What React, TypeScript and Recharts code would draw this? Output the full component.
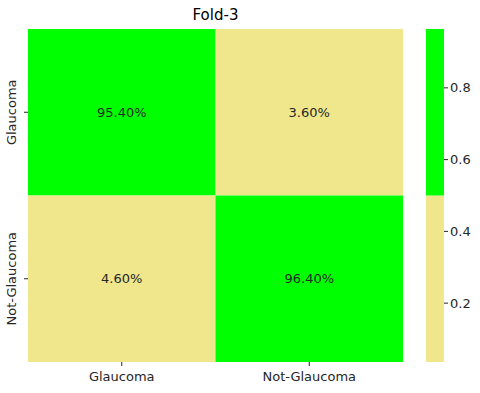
import * as React from "react";
import { ComposedChart, ReferenceArea, XAxis, YAxis, Scatter } from "recharts";

const classLabels = ["Glaucoma", "Not-Glaucoma"];
const rowValues = [
  [0.954, 0.036],
  [0.046, 0.964],
];
const colorbarTicks = [0.2, 0.4, 0.6, 0.8];
const colorbarMin = 0.036;
const colorbarMax = 0.964;

const GREEN = "#00ff00";
const KHAKI = "#f0e68c";
const TEXT = "#262626";
const FONT = "DejaVu Sans, sans-serif";

const cells = rowValues.flatMap((row, r) =>
  row.map((value, c) => ({ x: c + 0.5, y: r + 0.5, r, c, value })),
);

const pickColor = (v: number) => (v >= (colorbarMin + colorbarMax) / 2 ? GREEN : KHAKI);

function YTick({ x = 0, y = 0, payload }: any) {
  const label = classLabels[Math.round(payload.value - 0.5)];
  const bx = x - 6;
  return (
    <text
      x={bx}
      y={y}
      transform={`rotate(-90, ${bx}, ${y})`}
      textAnchor="middle"
      fontSize={13}
      fontFamily={FONT}
      fill={TEXT}
    >
      {label}
    </text>
  );
}

export default function App() {
  return (
    <div style={{ position: "absolute", left: 0, top: 0, width: 480, height: 393, background: "#fff" }}>
      <div
        style={{
          position: "absolute",
          left: 0,
          width: 431,
          top: 6,
          textAlign: "center",
          fontFamily: FONT,
          fontSize: 15,
          color: "#000",
        }}
      >
        Fold-3
      </div>
      <div style={{ position: "absolute", left: 0, top: 0 }}>
        <ComposedChart
          width={420}
          height={393}
          data={cells}
          margin={{ top: 29, right: 17, bottom: 0, left: 0 }}
        >
          <XAxis
            type="number"
            dataKey="x"
            domain={[0, 2]}
            ticks={[0.5, 1.5]}
            tickFormatter={(v: number) => classLabels[Math.round(v - 0.5)]}
            axisLine={false}
            tickSize={4}
            tickMargin={6}
            tickLine={{ stroke: TEXT }}
            tick={{ fontSize: 13, fontFamily: FONT, fill: TEXT }}
            height={31}
          />
          <YAxis
            type="number"
            dataKey="y"
            domain={[0, 2]}
            reversed
            ticks={[0.5, 1.5]}
            axisLine={false}
            tickSize={4}
            tickLine={{ stroke: TEXT }}
            tick={<YTick />}
            width={28}
          />
          {cells.map((cell) => (
            <ReferenceArea
              key={`${cell.r}-${cell.c}`}
              x1={cell.c}
              x2={cell.c + 1}
              y1={cell.r}
              y2={cell.r + 1}
              fill={pickColor(cell.value)}
              fillOpacity={1}
              stroke="none"
              label={{
                value: `${(cell.value * 100).toFixed(2)}%`,
                position: "center",
                fill: TEXT,
                fontSize: 13,
                fontFamily: FONT,
              }}
            />
          ))}
          <Scatter dataKey="y" fill="transparent" isAnimationActive={false} />
        </ComposedChart>
      </div>
      <div style={{ position: "absolute", left: 426, top: 0 }}>
        <ComposedChart
          width={54}
          height={393}
          data={[{ x: 0.5, y: 0.5 }]}
          margin={{ top: 29, right: 0, bottom: 31, left: 0 }}
        >
          <XAxis type="number" dataKey="x" domain={[0, 1]} hide />
          <YAxis
            type="number"
            dataKey="y"
            orientation="right"
            domain={[colorbarMin, colorbarMax]}
            ticks={colorbarTicks}
            tickFormatter={(v: number) => v.toFixed(1)}
            axisLine={false}
            tickSize={4}
            tickLine={{ stroke: TEXT }}
            tick={{ fontSize: 13, fontFamily: FONT, fill: TEXT }}
            width={36}
            allowDataOverflow
          />
          <ReferenceArea x1={0} x2={1} y1={colorbarMin} y2={0.5} fill={KHAKI} fillOpacity={1} stroke="none" />
          <ReferenceArea x1={0} x2={1} y1={0.5} y2={colorbarMax} fill={GREEN} fillOpacity={1} stroke="none" />
          <Scatter dataKey="y" fill="transparent" isAnimationActive={false} />
        </ComposedChart>
      </div>
    </div>
  );
}
